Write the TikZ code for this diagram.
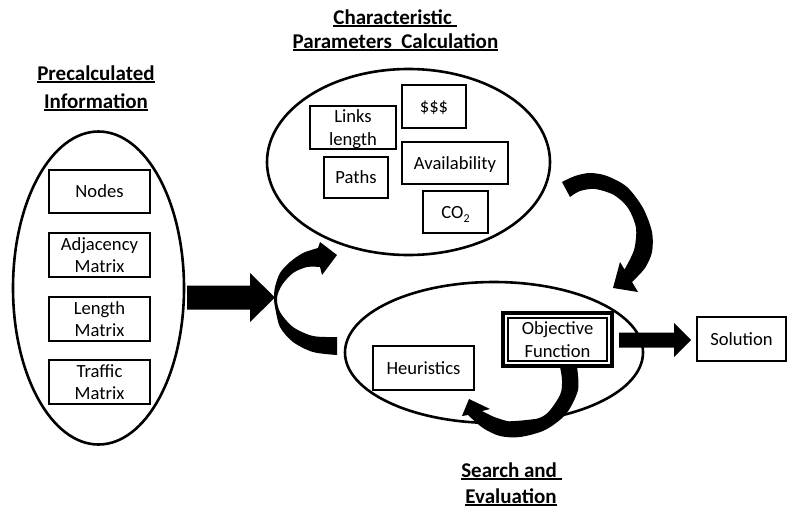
\documentclass[tikz,border=0pt]{standalone}
\usepackage{fontspec}
\setmainfont{Carlito}
\usetikzlibrary{shapes.geometric,calc}

% underline drawn as a bar of fixed thickness under the text (trailing spaces included)
\newcommand\ulbar[1]{\setbox0=\hbox{#1}\rlap{\rule[-3.1pt]{\wd0}{1.8pt}}\box0}
% lowered small index, as in chemical formulas
\newcommand\lowidx[1]{\raisebox{-4pt}{\fontsize{12}{12}\selectfont #1}}

% horizontal block arrow: tail coordinate, tip coordinate, half shaft, half head, head length
\newcommand\hblock[5]{\fill let \p1=(#1), \p2=(#2) in
  (\x1,\y2-#3) -- (\x2-#5,\y2-#3) -- (\x2-#5,\y2-#4) -- (\x2,\y2)
  -- (\x2-#5,\y2+#4) -- (\x2-#5,\y2+#3) -- (\x1,\y2+#3) -- cycle;}

\begin{document}
\begin{tikzpicture}[x=1pt,y=-1pt,
  box/.style={draw, line width=2.8pt, fill=white, inner sep=0pt, outer sep=0pt,
    align=center, text depth=0pt, font=\fontsize{18.6}{22.5}\selectfont},
  zone/.style={draw, ellipse, line width=2.6pt, inner sep=0pt, outer sep=0pt},
  heading/.style={anchor=base, inner sep=0pt, font=\fontsize{21}{26}\selectfont\bfseries}]

\useasboundingbox (0,0) rectangle (789,507);

% ---- the three stage zones ----
\node[zone, minimum width=171pt, minimum height=313pt] (pre) at (98.5,288) {};
\node[zone, minimum width=283pt, minimum height=186pt] (cpc) at (408.5,162) {};
\node[zone, minimum width=298pt, minimum height=141pt] (sae) at (494,352.5) {};

% ---- headings ----
\node[heading] (preA) at (96,80)  {\ulbar{Precalculated}};
\node[heading] (preB) at (96,108) {\ulbar{Information}};
\node[heading] (cpcA) at (395,24) {\ulbar{Characteristic\ }};
\node[heading] (cpcB) at (395.5,48) {\ulbar{Parameters\ \ Calculation}};
\node[heading] (saeA) at (511.5,477) {\ulbar{Search and\ }};
\node[heading] (saeB) at (511,503) {\ulbar{Evaluation}};

% ---- precalculated information ----
\node[box, minimum width=101pt, minimum height=43pt] (nodes) at (99.5,191.5) {Nodes};
\node[box, minimum width=101pt, minimum height=44pt] (adj) at (99.5,255) {Adjacency\\Matrix};
\node[box, minimum width=101pt, minimum height=44pt] (len) at (99.5,319) {Length\\Matrix};
\node[box, minimum width=101pt, minimum height=44pt] (traf) at (99.5,382) {Traffic\\Matrix};

% ---- characteristic parameters ----
\node[box, minimum width=86pt, minimum height=43pt] (links) at (353,127.5) {Links\\length};
\node[box, minimum width=64pt, minimum height=43pt] (cost) at (434,106.5) {\$\$\$};
\node[box, minimum width=64pt, minimum height=41pt] (paths) at (356,177.5) {Paths};
\node[box, minimum width=106pt, minimum height=42pt] (avail) at (455,163) {Availability};
\node[box, minimum width=65pt, minimum height=42pt] (co2) at (455.5,212) {CO\lowidx{2}};

% ---- search and evaluation: loop from the objective function back to the heuristics ----
\fill plot[smooth] coordinates {(577,367) (578,390) (566,414) (545,430) (520,437) (500,436) (483,428) (468,415)}
  -- (462,416) -- (469,399) -- (490,409) -- (482,411)
  -- plot[smooth] coordinates {(482,411) (497,418) (520,423) (545,415) (560,395) (562,380) (560,367)} -- cycle;

\node[box, minimum width=101pt, minimum height=44pt] (heur) at (423.5,368) {Heuristics};
\node[box, line width=3.2pt, minimum width=109pt, minimum height=53pt] (obj) at (557.5,339.5) {Objective\\Function};
\draw[line width=1.2pt] ($(obj.south west)+(5,-5)$) rectangle ($(obj.north east)+(-5,5)$);
\node[box, minimum width=89pt, minimum height=44pt] (sol) at (741.5,339) {Solution};

% ---- straight block arrows ----
\coordinate (a1s) at ($(pre.east)+(3,0)$);
\coordinate (a1t) at (275,297.5);
\hblock{a1s}{a1t}{12pt}{24.5pt}{25pt}
\coordinate (a2s) at ($(obj.east)+(7,0)$);
\coordinate (a2t) at ($(sol.west)+(-6,1)$);
\hblock{a2s}{a2t}{7.5pt}{17pt}{17pt}

% ---- curved arrow into the parameter calculation ----
\fill plot[smooth] coordinates {(337,355) (313,352) (293,342) (280,327) (275,307) (274,298) (275,287) (280,273) (290,262) (303,253) (318,248)}
  -- (320,242) -- (337,255) -- (322,275) -- (320,267)
  -- plot[smooth] coordinates {(320,267) (307,267) (293,273) (282,285) (277,298) (280,312) (293,327) (313,336) (337,337)} -- cycle;

% ---- curved arrow from the parameter calculation to the search ----
\fill plot[smooth] coordinates {(562,182) (575,176) (590,173) (607,176) (627,187) (643,208) (652,232) (652,252) (645,268) (632,282)}
  -- (638,292) -- (613,288) -- (620,262) -- (624.5,269.5)
  -- plot[smooth] coordinates {(624.5,269.5) (634,250) (636,228) (628,208) (614,195) (595,189) (580,191) (570,197)} -- cycle;

\end{tikzpicture}
\end{document}
